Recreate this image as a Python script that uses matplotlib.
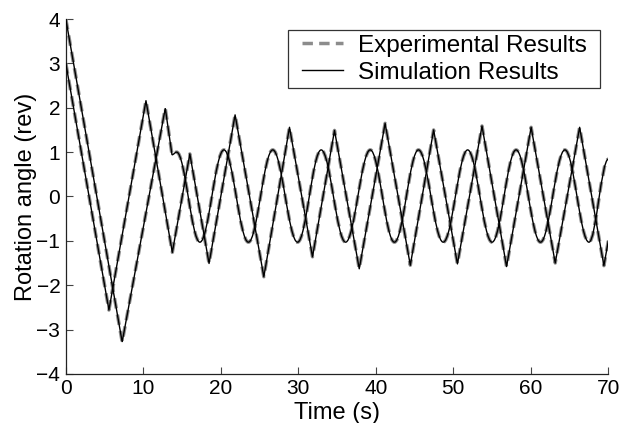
import matplotlib
matplotlib.use("Agg")
import matplotlib.pyplot as plt
from matplotlib.path import Path
from matplotlib.patches import PathPatch
from matplotlib.lines import Line2D

plt.rcParams['font.family'] = ['Liberation Sans', 'DejaVu Sans']

# run A: starts at 4 rev, settles into a ~1 rev sinusoid (extrema)
exp_a_t = [0.0, 7.27, 12.83, 13.7, 14.3, 17.3, 20.4, 23.56, 26.7, 29.9, 32.95, 36.1,
           39.28, 42.4, 45.5, 48.7, 51.85, 55.0, 58.1, 61.25, 64.4, 67.5, 70.0]
exp_a_v = [4.0, -3.28, 1.99, 0.94, 1.0, -1.03, 1.05, -1.03, 1.05, -1.03, 1.05, -1.03,
           1.05, -1.03, 1.05, -1.03, 1.05, -1.03, 1.05, -1.03, 1.05, -1.03, 0.84]
# 'line' = straight segment into the point, 'curve' = smooth segment into the point
exp_a_seg = ['line', 'line', 'line', 'line', 'curve', 'curve', 'curve', 'curve', 'curve',
             'curve', 'curve', 'curve', 'curve', 'curve', 'curve', 'curve', 'curve',
             'curve', 'curve', 'curve', 'curve', 'curve', 'curve']
sim_a_t = list(exp_a_t)
sim_a_v = list(exp_a_v)
sim_a_seg = list(exp_a_seg)

# run B: starts at 3 rev, keeps a triangular oscillation
exp_b_t = [0.0, 5.56, 10.34, 13.74, 16.0, 18.48, 21.84, 25.55, 28.86, 31.83, 34.67, 37.86,
           41.2, 44.45, 47.46, 50.53, 53.7, 56.87, 60.04, 63.15, 66.3, 69.43, 70.0]
exp_b_v = [3.0, -2.56, 2.16, -1.26, 0.96, -1.51, 1.84, -1.81, 1.56, -1.36, 1.49, -1.63,
           1.65, -1.55, 1.50, -1.52, 1.59, -1.58, 1.56, -1.50, 1.56, -1.56, -1.0]
sim_b_t = list(exp_b_t)
sim_b_v = list(exp_b_v)

x_ticks = [0, 10, 20, 30, 40, 50, 60, 70]
y_ticks = [-4, -3, -2, -1, 0, 1, 2, 3, 4]

EXP_COLOR = '#8c8c8c'
SIM_COLOR = 'black'
EXP_LW = 2.5
SIM_LW = 1.0
EXP_DASH = (0, (3, 1.8))
K = 0.3634  # bezier handle fraction for half-cosine shape


def make_path(t, v, seg):
    verts = [(t[0], v[0])]
    codes = [Path.MOVETO]
    for i in range(1, len(t)):
        if seg[i] == 'line':
            verts.append((t[i], v[i]))
            codes.append(Path.LINETO)
        else:
            dt = t[i] - t[i - 1]
            verts += [(t[i - 1] + K * dt, v[i - 1]), (t[i] - K * dt, v[i]), (t[i], v[i])]
            codes += [Path.CURVE4] * 3
    return Path(verts, codes)


def wide_box(x0, y0, width, height, mutation_size):
    # legend frame with more padding left/right than top/bottom
    px = 0.38 * mutation_size
    x0 -= px
    width += 2 * px
    return Path([(x0, y0), (x0 + width, y0), (x0 + width, y0 + height),
                 (x0, y0 + height), (x0, y0)], closed=True)


fig = plt.figure(figsize=(6.33, 4.23), dpi=100)
ax = fig.add_axes([0.104, 0.116, 0.857, 0.839])

ax.add_patch(PathPatch(make_path(exp_a_t, exp_a_v, exp_a_seg), fill=False,
                       edgecolor=EXP_COLOR, lw=EXP_LW, ls=EXP_DASH, zorder=2))
ax.plot(exp_b_t, exp_b_v, color=EXP_COLOR, lw=EXP_LW, ls=EXP_DASH, zorder=2)
ax.add_patch(PathPatch(make_path(sim_a_t, sim_a_v, sim_a_seg), fill=False,
                       edgecolor=SIM_COLOR, lw=SIM_LW, zorder=3))
ax.plot(sim_b_t, sim_b_v, color=SIM_COLOR, lw=SIM_LW, zorder=3)

ax.set_xlim(0, 70)
ax.set_ylim(-4, 4)
ax.set_xticks(x_ticks)
ax.set_yticks(y_ticks)
ax.tick_params(direction='in', length=5, width=0.8, labelsize=15, pad=4,
               color='#444444')
for s in ['top', 'right']:
    ax.spines[s].set_visible(False)
for s in ['left', 'bottom']:
    ax.spines[s].set_linewidth(0.9)
    ax.spines[s].set_color('#222222')

ax.set_xlabel('Time (s)', fontsize=17, labelpad=2.5)
ax.set_ylabel('Rotation angle (rev)', fontsize=17, labelpad=-0.5)

handles = [Line2D([], [], color=EXP_COLOR, lw=EXP_LW, ls=EXP_DASH),
           Line2D([], [], color=SIM_COLOR, lw=SIM_LW)]
leg = ax.legend(handles, ['Experimental Results', 'Simulation Results'],
                loc='upper right', bbox_to_anchor=(0.968, 0.968), borderaxespad=0,
                fontsize=17.5, frameon=True, fancybox=False, handlelength=1.7,
                borderpad=0.18, labelspacing=0.2, handletextpad=0.6)
leg.get_frame().set_boxstyle(wide_box)
leg.get_frame().set_edgecolor('black')
leg.get_frame().set_linewidth(0.9)

fig.savefig('out.png', dpi=100)
